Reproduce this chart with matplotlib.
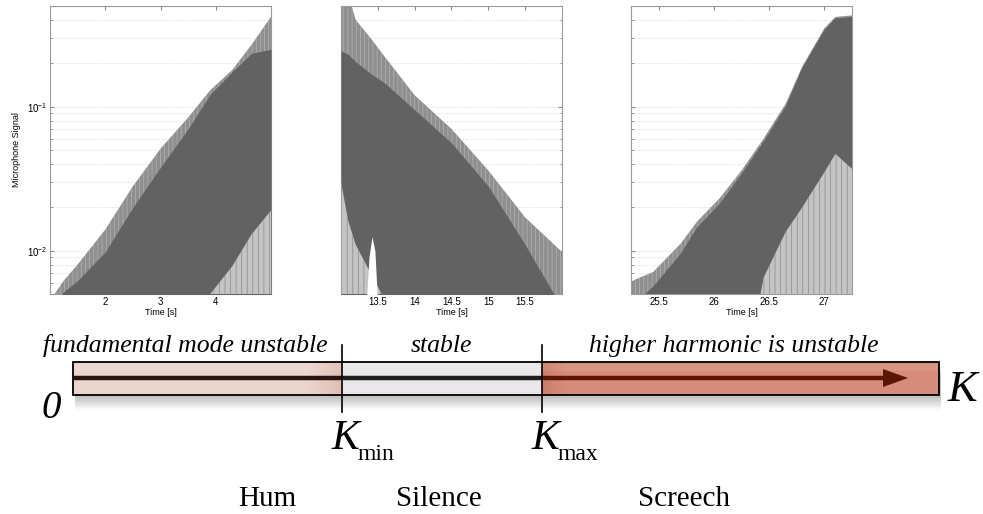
import numpy as np
import matplotlib.pyplot as plt
from matplotlib.patches import Rectangle, Polygon
from matplotlib.ticker import LogLocator, NullFormatter

plt.rcParams['font.family'] = ['Liberation Sans', 'DejaVu Sans']
plt.rcParams['hatch.linewidth'] = 0.5

# --- envelopes ---
# hum (fundamental grows)
t_hum = [1.0, 1.25, 1.5, 2.0, 2.5, 3.0, 3.5, 3.9, 4.3, 4.65, 5.0]
hum_peak = [0.0045, 0.0062, 0.008, 0.014, 0.028, 0.051, 0.084, 0.13, 0.18, 0.27, 0.42]
hum_core = [0.004, 0.0052, 0.0062, 0.0098, 0.02, 0.038, 0.07, 0.122, 0.175, 0.235, 0.25]
hum_trough = [0.001, 0.001, 0.001, 0.001, 0.001, 0.001, 0.001, 0.005, 0.0078, 0.013, 0.019]

# silence (decay)
t_sil = [13.0, 13.1, 13.2, 13.4, 13.6, 14.0, 14.5, 15.0, 15.5, 16.0]
sil_peak = [0.6, 0.6, 0.4, 0.3, 0.22, 0.12, 0.07, 0.036, 0.017, 0.0098]
sil_core = [0.245, 0.23, 0.205, 0.17, 0.145, 0.095, 0.056, 0.028, 0.011, 0.004]
sil_trough = [0.03, 0.016, 0.011, 0.007, 0.0045, 0.001, 0.001, 0.001, 0.001, 0.001]
t_gap = [13.34, 13.38, 13.42, 13.46, 13.5]
sil_gap = [0.004, 0.009, 0.0125, 0.01, 0.004]

# screech (higher harmonic grows)
t_scr = [25.25, 25.35, 25.45, 25.7, 25.85, 26.05, 26.25, 26.45, 26.65, 26.8, 27.0, 27.1, 27.25]
scr_peak = [0.0061, 0.0066, 0.0071, 0.0112, 0.016, 0.023, 0.036, 0.06, 0.105, 0.19, 0.35, 0.42, 0.43]
scr_core = [0.004, 0.0048, 0.0056, 0.0095, 0.0145, 0.021, 0.034, 0.057, 0.1, 0.185, 0.34, 0.41, 0.42]
scr_trough = [0.001, 0.001, 0.001, 0.001, 0.001, 0.001, 0.001, 0.0065, 0.0135, 0.02, 0.035, 0.047, 0.037]

panels = [
    (t_hum, hum_peak, hum_core, hum_trough, (1, 5), [2, 3, 4], ['2', '3', '4']),
    (t_sil, sil_peak, sil_core, sil_trough, (13, 16), [13.5, 14, 14.5, 15, 15.5],
     ['13.5', '14', '14.5', '15', '15.5']),
    (t_scr, scr_peak, scr_core, scr_trough, (25.25, 27.25), [25.5, 26, 26.5, 27],
     ['25.5', '26', '26.5', '27']),
]

W, H = 983, 514
fig = plt.figure(figsize=(W / 100, H / 100), dpi=100)

lefts = [50, 341, 631]
for i, (t, pk, core, tr, xl, xt, xtl) in enumerate(panels):
    ax = fig.add_axes([lefts[i] / W, (H - 294) / H, 221 / W, 288 / H])
    ax.set_yscale('log')
    ax.fill_between(t, 1e-4, pk, facecolor='#8f8f8f', edgecolor='#b4b4b4',
                    hatch='||||', lw=0, zorder=2)
    ax.fill_between(t, 1e-4, core, color='#626262', lw=0, zorder=3)
    ax.fill_between(t, 1e-4, tr, facecolor='#c4c4c4', edgecolor='#8a8a8a',
                    hatch='|||', lw=0, zorder=4)
    if i == 1:
        ax.fill_between(t_gap, 1e-4, sil_gap, color='white', lw=0, zorder=5)
    ax.set_xlim(*xl)
    ax.set_ylim(0.005, 0.5)
    ax.set_xticks(xt)
    ax.set_xticklabels(xtl)
    ax.yaxis.set_major_locator(LogLocator(base=10))
    ax.yaxis.set_minor_locator(LogLocator(base=10, subs=np.arange(2, 10)))
    ax.yaxis.set_minor_formatter(NullFormatter())
    ax.grid(True, which='both', axis='y', color='#d6d6d6', ls=':', lw=0.7, zorder=0)
    ax.set_axisbelow(True)
    ax.tick_params(which='both', direction='in', top=True, right=True,
                   labelsize=7, length=3, color='#888888', pad=2)
    ax.tick_params(which='minor', length=1.8)
    for s in ax.spines.values():
        s.set_color('#9a9a9a')
        s.set_linewidth(0.8)
    ax.set_xlabel('Time [s]', fontsize=6.5, labelpad=1)
    if i == 0:
        ax.set_ylabel('Microphone Signal', fontsize=6.5, labelpad=4)
    else:
        ax.set_yticklabels([])

# --- stability diagram below, drawn in pixel coordinates ---
ax0 = fig.add_axes([0, 0, 1, 1])
ax0.set_xlim(0, W)
ax0.set_ylim(H, 0)
ax0.axis('off')
ax0.patch.set_visible(False)

x0, x1, x2, x3 = 73, 342, 542, 939
ytop, ybot = 362, 395

# soft shadow under the bar
for k in range(10):
    ax0.add_patch(Rectangle((x0 + 2, ytop + 3 + k * 1.3), x3 - x0, ybot - ytop,
                            color='#000000', alpha=0.025, lw=0, zorder=1))

ax0.add_patch(Rectangle((x0, ytop), x1 - x0, ybot - ytop, color='#ecd5ce', lw=0, zorder=2))
ax0.add_patch(Rectangle((x1, ytop), x2 - x1, ybot - ytop, color='#e9e7e9', lw=0, zorder=2))
ax0.add_patch(Rectangle((x2, ytop), x3 - x2, ybot - ytop, color='#d68c7a', lw=0, zorder=2))

# shading near the section edges
grad = np.linspace(0, 1, 50)[None, :, None]
c_a = np.array([0.925, 0.835, 0.808])
c_b = np.array([0.88, 0.75, 0.71])
ax0.imshow(c_a + (c_b - c_a) * grad, extent=(x1 - 35, x1, ybot, ytop),
           aspect='auto', zorder=2.5, interpolation='bilinear')
c_c = np.array([0.80, 0.49, 0.42])
c_d = np.array([0.84, 0.55, 0.48])
ax0.imshow(c_c + (c_d - c_c) * grad, extent=(x2, x2 + 25, ybot, ytop),
           aspect='auto', zorder=2.5, interpolation='bilinear')
ax0.add_patch(Rectangle((x0, ytop + 2), x3 - x0, 7, color='white', alpha=0.08, lw=0, zorder=2.6))
ax0.add_patch(Rectangle((x0, ytop), x3 - x0, ybot - ytop, fill=False, ec='black', lw=1.3, zorder=3))

# the K axis arrow
ya = 378
ax0.plot([x0, x1], [ya, ya], color='#2a1410', lw=3.2, solid_capstyle='butt', zorder=4)
ax0.plot([x1, x2], [ya, ya], color='#1e1e1e', lw=3.2, solid_capstyle='butt', zorder=4)
ax0.plot([x2, 884], [ya, ya], color='#5c1605', lw=3.2, solid_capstyle='butt', zorder=4)
ax0.add_patch(Polygon([(883, ya - 9), (908, ya), (883, ya + 9)], closed=True,
                      color='#5c1605', lw=0, zorder=4))

# Kmin / Kmax dividers
for xv in (x1, x2):
    ax0.plot([xv, xv], [345, 412], color='black', lw=1.2, zorder=5)

serif = ['Liberation Serif', 'DejaVu Serif']
ax0.text(185, 352, 'fundamental mode unstable', fontsize=18.5, style='italic',
         family=serif, ha='center', va='baseline')
ax0.text(441, 352, 'stable', fontsize=18.5, style='italic',
         family=serif, ha='center', va='baseline')
ax0.text(734, 352, 'higher harmonic is unstable', fontsize=18.5, style='italic',
         family=serif, ha='center', va='baseline')
ax0.text(51, 418, '0', fontsize=28, style='italic', family=serif, ha='center', va='baseline')
ax0.text(948, 401, 'K', fontsize=32, style='italic', family=serif, ha='left', va='baseline')
for xk, sub in ((331, 'min'), (531, 'max')):
    ax0.text(xk, 449, 'K', fontsize=30, style='italic', family=serif, ha='left', va='baseline')
    ax0.text(xk + 27, 460, sub, fontsize=17, family=serif, ha='left', va='baseline')

ax0.text(267, 506, 'Hum', fontsize=21, family=serif, ha='center', va='baseline')
ax0.text(439, 506, 'Silence', fontsize=21, family=serif, ha='center', va='baseline')
ax0.text(684, 506, 'Screech', fontsize=21, family=serif, ha='center', va='baseline')

fig.savefig('out.png', dpi=100)
